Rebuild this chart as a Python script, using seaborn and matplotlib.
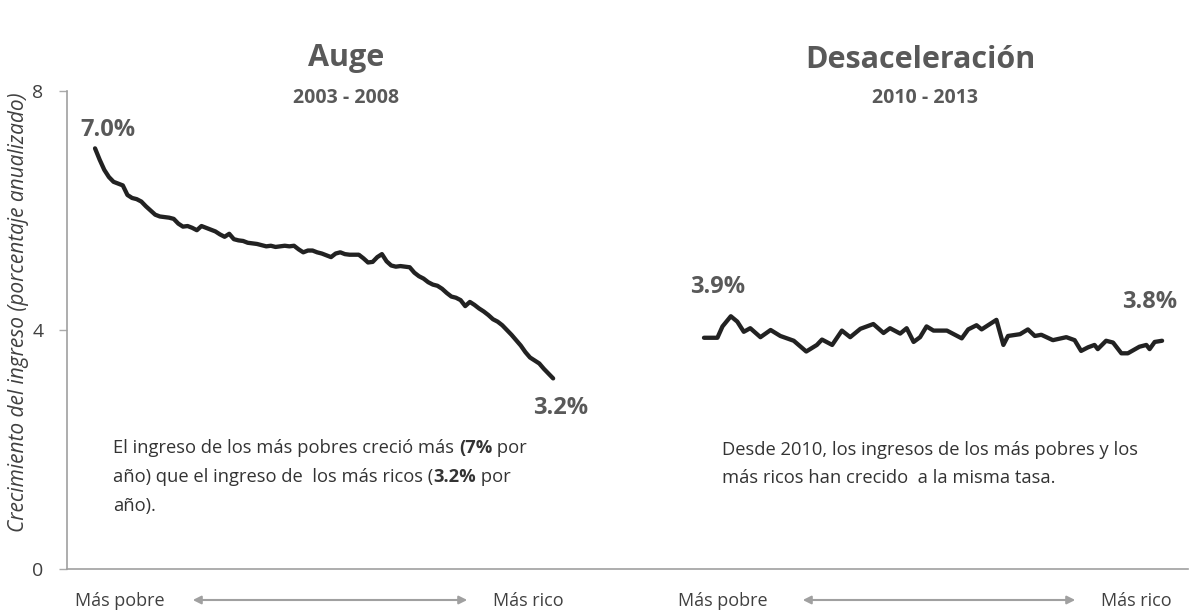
import matplotlib
matplotlib.use("Agg")
import matplotlib.pyplot as plt
import seaborn as sns
import pandas as pd

# ---------------- data ----------------
auge_pct = list(range(1, 101))
auge_val = [7.04, 6.85, 6.68, 6.56, 6.48, 6.45, 6.42, 6.26, 6.21, 6.19,
            6.15, 6.07, 6.00, 5.93, 5.90, 5.89, 5.88, 5.86, 5.78, 5.73,
            5.74, 5.71, 5.67, 5.74, 5.71, 5.68, 5.65, 5.60, 5.56, 5.61,
            5.52, 5.50, 5.49, 5.46, 5.45, 5.44, 5.42, 5.40, 5.41, 5.39,
            5.40, 5.41, 5.40, 5.41, 5.35, 5.30, 5.33, 5.33, 5.30, 5.28,
            5.25, 5.22, 5.28, 5.30, 5.27, 5.26, 5.26, 5.26, 5.20, 5.13,
            5.14, 5.22, 5.27, 5.15, 5.08, 5.06, 5.07, 5.06, 5.05, 4.96,
            4.90, 4.86, 4.80, 4.76, 4.74, 4.69, 4.62, 4.56, 4.54, 4.50,
            4.40, 4.47, 4.42, 4.36, 4.31, 4.25, 4.18, 4.14, 4.08, 4.00,
            3.92, 3.83, 3.74, 3.63, 3.54, 3.49, 3.44, 3.35, 3.27, 3.19]

desac_pct = [1, 3.9, 5, 6.8, 8.2, 9.6, 11, 13.2, 15.4, 17.5, 20.4, 23.1, 25.4,
             26.5, 28.7, 30.8, 32.6, 34.8, 37.6, 39.8, 41.2, 43.4, 44.8, 46.3,
             47.7, 49.1, 50.6, 53.5, 56.7, 58.1, 59.9, 61, 64.2, 65.7, 66.7,
             69.3, 71, 72.5, 73.9, 76.4, 79.3, 81.1, 82.5, 84, 85.4, 86.1, 87.9,
             89.4, 91.2, 92.6, 95.1, 96.6, 97.3, 98.4, 100]
desac_val = [3.87, 3.87, 4.06, 4.23, 4.14, 3.97, 4.03, 3.88, 4.00, 3.90, 3.82,
             3.64, 3.75, 3.84, 3.75, 3.99, 3.88, 4.02, 4.10, 3.95, 4.03, 3.94,
             4.03, 3.80, 3.88, 4.06, 3.99, 3.99, 3.86, 4.01, 4.08, 4.01, 4.17,
             3.75, 3.90, 3.93, 4.01, 3.90, 3.92, 3.83, 3.88, 3.83, 3.65, 3.71,
             3.75, 3.68, 3.82, 3.79, 3.61, 3.61, 3.72, 3.75, 3.68, 3.80, 3.82]

panel_titles = ["Auge", "Desaceleración"]
panel_years = ["2003 - 2008", "2010 - 2013"]
end_labels = ["7.0%", "3.2%", "3.9%", "3.8%"]
y_ticks = [0, 4, 8]
y_label = "Crecimiento del ingreso (porcentaje anualizado)"
x_left_label = "Más pobre"
x_right_label = "Más rico"

# ---------------- layout ----------------
W, H = 1195, 612
OFFSET = 131.6  # horizontal gap (in percentile units) of second panel

def fx(px):
    return px / W

def fy(py):
    return 1 - py / H

sns.set_theme(style="white")
plt.rcParams["font.family"] = ["Open Sans", "DejaVu Sans"]

fig = plt.figure(figsize=(W / 100, H / 100), dpi=100)
fig.patch.set_facecolor("white")
ax = fig.add_axes([fx(67), fy(569), fx(1188) - fx(67), fy(91) - fy(569)])

df = pd.concat([
    pd.DataFrame({"x": auge_pct, "y": auge_val, "panel": "auge"}),
    pd.DataFrame({"x": [p + OFFSET for p in desac_pct], "y": desac_val, "panel": "desac"}),
])
for name, sub in df.groupby("panel"):
    sns.lineplot(data=sub, x="x", y="y", ax=ax, color="#222222", linewidth=3.1,
                 estimator=None, sort=False)

ax.set_xlim(-5.06, 237.2)
ax.set_ylim(0, 8)
ax.set_yticks(y_ticks)
ax.set_xticks([])
ax.set_xlabel("")
ax.set_ylabel("")
ax.tick_params(axis="y", length=6, width=1, color="#aaaaaa", labelsize=14,
               labelcolor="#404040", left=True, pad=11)
for s in ["top", "right"]:
    ax.spines[s].set_visible(False)
for s in ["left", "bottom"]:
    ax.spines[s].set_color("#a0a0a0")
    ax.spines[s].set_linewidth(1.2)
ax.set_facecolor("white")

fig.text(fx(19), fy(312), y_label, rotation=90, ha="center", va="center",
         fontsize=15, style="italic", color="#404040")

gray = "#595959"
# titles
fig.text(fx(346), fy(58), panel_titles[0], ha="center", va="center",
         fontsize=22, fontweight="bold", color=gray)
fig.text(fx(346), fy(98), panel_years[0], ha="center", va="center",
         fontsize=14, fontweight="bold", color=gray)
fig.text(fx(920), fy(60), panel_titles[1], ha="center", va="center",
         fontsize=22, fontweight="bold", color=gray)
fig.text(fx(925), fy(98), panel_years[1], ha="center", va="center",
         fontsize=14, fontweight="bold", color=gray)

# end labels
fig.text(fx(108), fy(130), end_labels[0], ha="center", va="center",
         fontsize=17, fontweight="bold", color=gray)
fig.text(fx(561), fy(408), end_labels[1], ha="center", va="center",
         fontsize=17, fontweight="bold", color=gray)
fig.text(fx(718), fy(287), end_labels[2], ha="center", va="center",
         fontsize=17, fontweight="bold", color=gray)
fig.text(fx(1150), fy(302), end_labels[3], ha="center", va="center",
         fontsize=17, fontweight="bold", color=gray)

# annotation text with mixed weights
txtc = "#333333"
fs = 13.2

def chain(parts, x, y):
    t = fig.text(fx(x), fy(y), parts[0][0], ha="left", va="center", fontsize=fs,
                 color=txtc, fontweight=parts[0][1])
    prev = t
    for s, w in parts[1:]:
        prev = ax.annotate(s, xy=(1, 0), xycoords=prev, ha="left", va="bottom",
                           fontsize=fs, color=txtc, fontweight=w,
                           annotation_clip=False)
    return t

chain([("El ingreso de los más pobres creció más ", "normal"), ("(7%", "bold"),
       (" por", "normal")], 113, 448)
chain([("año) que el ingreso de  los más ricos (", "normal"), ("3.2%", "bold"),
       (" por", "normal")], 113, 477)
chain([("año).", "normal")], 113, 506)

fig.text(fx(722), fy(450), "Desde 2010, los ingresos de los más pobres y los",
         ha="left", va="center", fontsize=fs, color=txtc)
fig.text(fx(722), fy(478), "más ricos han crecido  a la misma tasa.",
         ha="left", va="center", fontsize=fs, color=txtc)

# x-axis direction labels and arrows
for lx, ax0, ax1, rx in [(120, 190, 470, 528), (723, 800, 1078, 1136)]:
    fig.text(fx(lx), fy(601), x_left_label, ha="center", va="center",
             fontsize=13, color="#404040")
    fig.text(fx(rx), fy(601), x_right_label, ha="center", va="center",
             fontsize=13, color="#404040")
    fig.add_artist(matplotlib.patches.FancyArrowPatch(
        (fx(ax0), fy(600)), (fx(ax1), fy(600)), transform=fig.transFigure,
        arrowstyle="<|-|>", mutation_scale=12, color="#a0a0a0", linewidth=1.5))

fig.savefig("out.png", dpi=100, facecolor="white")
